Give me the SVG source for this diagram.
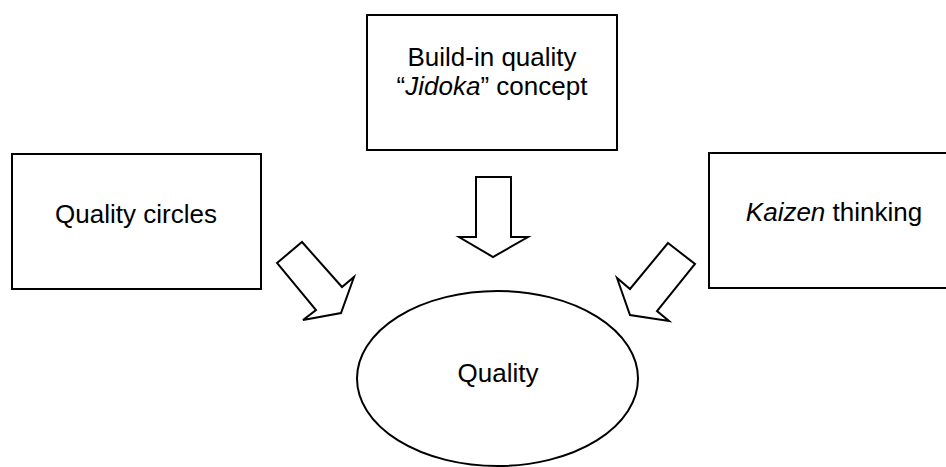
<svg xmlns="http://www.w3.org/2000/svg" width="946" height="467" viewBox="0 0 946 467">
  <style>
    .box { fill: #ffffff; stroke: #000000; stroke-width: 2; }
    .arrow { fill: #ffffff; stroke: #000000; stroke-width: 2; stroke-linejoin: miter; }
    .label { font-family: "Liberation Sans", Arial, sans-serif; font-size: 26px; fill: #000000; text-anchor: middle; }
    .it { font-style: italic; }
  </style>
  <rect width="946" height="467" fill="#ffffff"/>

  <g id="node-jidoka">
    <rect class="box" x="367" y="15" width="250" height="135"/>
    <text class="label" x="492" y="66">Build-in quality</text>
    <text class="label" x="492" y="95">“<tspan class="it">Jidoka</tspan>” concept</text>
  </g>

  <g id="node-quality-circles">
    <rect class="box" x="12" y="154" width="249" height="135"/>
    <text class="label" x="136" y="223">Quality circles</text>
  </g>

  <g id="node-kaizen">
    <rect class="box" x="709" y="153" width="250" height="135"/>
    <text class="label" x="834" y="221"><tspan class="it">Kaizen</tspan> thinking</text>
  </g>

  <g id="node-quality">
    <ellipse class="box" cx="497.5" cy="378.5" rx="140.5" ry="87.5"/>
    <text class="label" x="498" y="382">Quality</text>
  </g>

  <g id="connectors">
    <!-- block arrow: Jidoka -> Quality -->
    <polygon class="arrow" points="476,177 511,177 511,237 528,237 493,257 459,237 476,237"/>
    <!-- block arrow: Quality circles -> Quality -->
    <polygon class="arrow" points="277,263 302,242 342,287 354,277 341,313 303,320 316,310"/>
    <!-- block arrow: Kaizen thinking -> Quality -->
    <polygon class="arrow" points="668,243 695,264 657,311 669,321 630,315 617,278 630,289"/>
  </g>
</svg>
